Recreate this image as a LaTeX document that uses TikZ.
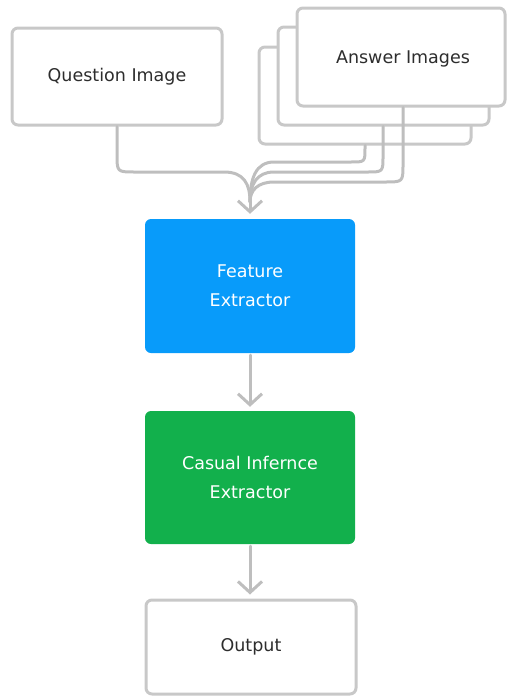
\documentclass[tikz,border=0pt]{standalone}
\usepackage{fontspec}
\setmainfont{DejaVu Sans}
\usetikzlibrary{arrows.meta}
\definecolor{linegray}{RGB}{190,190,190}
\definecolor{boxgray}{RGB}{200,200,200}
\definecolor{fblue}{RGB}{8,155,250}
\definecolor{cgreen}{RGB}{18,176,76}
\definecolor{txt}{RGB}{45,45,45}
\tikzset{
  base/.style={rounded corners=6pt, minimum width=210pt, align=center,
    font=\fontsize{17.5pt}{29pt}\selectfont, inner sep=0pt},
  wbox/.style={base, draw=boxgray, line width=3pt, fill=white, text=txt},
  fbox/.style={base, fill=fblue, text=white},
  gbox/.style={base, fill=cgreen, text=white},
  conn/.style={draw=linegray, line width=3pt, line cap=round, line join=round},
  arr/.style={conn, -{Straight Barb[length=11pt,width=24pt,line width=3pt]}}
}
\begin{document}
\begin{tikzpicture}[x=1pt,y=-1pt]
\useasboundingbox (0,0) rectangle (507,696);
% boxes
\node[wbox, minimum height=97pt] (q) at (117,76.5) {Question Image};
\node[wbox, minimum width=212pt, minimum height=97pt] (ab) at (365,95.5) {};
\node[wbox, minimum width=211pt, minimum height=98pt] (am) at (383.5,76) {};
\node[wbox, minimum width=208pt, minimum height=98pt] (af) at (401,57) {};
\node[font=\fontsize{17.5pt}{29pt}\selectfont, text=txt] (atext) at (403,59) {Answer Images};
\node[fbox, minimum height=134pt] (fe) at (250,286) {Feature\\Extractor};
\node[gbox, minimum height=133pt] (ce) at (250,477.5) {Casual Infernce\\Extractor};
\node[wbox, minimum height=94pt] (out) at (251,647) {Output};
% junction
\coordinate (j) at (250,202);
% connectors
\draw[conn] (q.south) -- (117,154) .. controls (117,172) .. (135,172) -- (224,172) .. controls (244,172) and (250,184) .. (j);
\draw[conn] (ab.south) -- (365,148) .. controls (365,162) .. (351,162) -- (274,162) .. controls (256,162) and (250,178) .. (j);
\draw[conn] (am.south -| 383,0) -- (383,156) .. controls (383,172) .. (367,172) -- (274,172) .. controls (257,172) and (250,184) .. (j);
\draw[conn] (af.south -| 403,0) -- (403,164) .. controls (403,182) .. (385,182) -- (274,182) .. controls (258,182) and (250,190) .. (j);
\draw[arr, shorten >=5pt] (j) -- (fe.north);
\draw[arr, shorten <=2pt, shorten >=4pt] (fe.south) -- (ce.north);
\draw[arr, shorten <=2pt, shorten >=4pt] (ce.south) -- (out.north -| ce.south);
\end{tikzpicture}
\end{document}
